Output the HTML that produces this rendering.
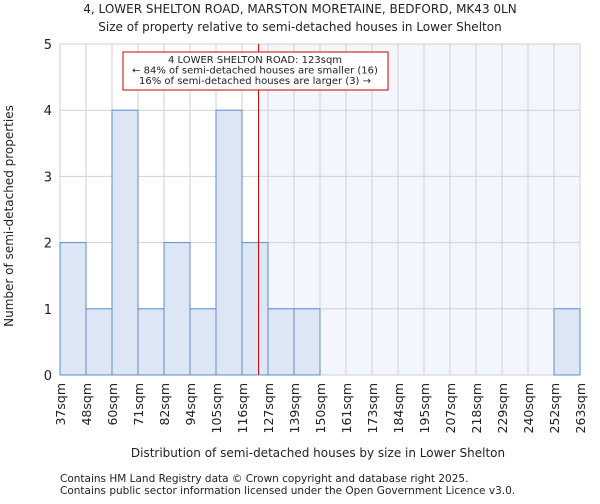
<!DOCTYPE html>
<html><head><meta charset="utf-8"><style>
body{margin:0;background:#fff;font-family:"DejaVu Sans","Liberation Sans",sans-serif;}
svg text{font-family:"DejaVu Sans","Liberation Sans",sans-serif;fill:#222;}
</style></head><body>
<svg id="chart" width="600" height="500">
<text x="300" y="13" font-size="12" text-anchor="middle">4, LOWER SHELTON ROAD, MARSTON MORETAINE, BEDFORD, MK43 0LN</text>
<text x="300" y="31" font-size="12" text-anchor="middle">Size of property relative to semi-detached houses in Lower Shelton</text>
<g id="plot"></g>
<text x="318" y="457" font-size="12" text-anchor="middle">Distribution of semi-detached houses by size in Lower Shelton</text>
<text transform="translate(13,216) rotate(-90)" font-size="12" text-anchor="middle">Number of semi-detached properties</text>
<text x="60" y="482" font-size="10.5">Contains HM Land Registry data © Crown copyright and database right 2025.</text>
<text x="60" y="494" font-size="10.5">Contains public sector information licensed under the Open Government Licence v3.0.</text>
</svg>
<script>
const binLabels=["37sqm","48sqm","60sqm","71sqm","82sqm","94sqm","105sqm","116sqm","127sqm","139sqm","150sqm","161sqm","173sqm","184sqm","195sqm","207sqm","218sqm","229sqm","240sqm","252sqm","263sqm"];
const binEdges=[37,48,60,71,82,94,105,116,127,139,150,161,173,184,195,207,218,229,240,252,263];
const counts=[2,1,4,1,2,1,4,2,1,1,0,0,0,0,0,0,0,0,0,1];
const yTicks=[0,1,2,3,4,5];
const subjectSize=123;
const annotationLines=["4 LOWER SHELTON ROAD: 123sqm","← 84% of semi-detached houses are smaller (16)","16% of semi-detached houses are larger (3) →"];
const NS="http://www.w3.org/2000/svg";
const g=document.getElementById('plot');
const X0=60,X1=580,Y0=375,Y1=44,n=counts.length,bw=(X1-X0)/n;
function xi(i){return X0+i*bw;}
function xv(v){let i=0;while(i<binEdges.length-2&&v>binEdges[i+1])i++;return xi(i)+bw*(v-binEdges[i])/(binEdges[i+1]-binEdges[i]);}
function y(v){return Y0-(Y0-Y1)*v/5;}
function mk(t,a){const e=document.createElementNS(NS,t);for(const k in a)e.setAttribute(k,a[k]);g.appendChild(e);return e;}
const sx=xv(subjectSize);
let e=mk('rect',{x:sx,y:Y1,width:X1-sx,height:Y0-Y1,fill:'#f3f6fc'});


for(let i=0;i<=n;i++){e=mk('line',{x1:xi(i),x2:xi(i),y1:Y1,y2:Y0,stroke:'#d0d0d0','stroke-width':1});

}
yTicks.forEach(t=>{e=mk('line',{x1:X0,x2:X1,y1:y(t),y2:y(t),stroke:'#d0d0d0','stroke-width':1});


e=mk('text',{x:X0-8,y:y(t)+5,'font-size':13,'text-anchor':'end'});e.textContent=t;

});
counts.forEach((c,i)=>{if(c<=0)return;e=mk('rect',{x:xi(i),y:y(c),width:bw,height:Y0-y(c),fill:'#dce6f4',stroke:'#5b8fd6','stroke-width':1});

});
binLabels.forEach((l,i)=>{e=mk('text',{transform:`translate(${xi(i)+5},${Y0+8}) rotate(-90)`,'font-size':12.5,'text-anchor':'end'});e.textContent=l;

});
e=mk('line',{x1:sx,x2:sx,y1:Y1,y2:Y0,stroke:'#cc0000','stroke-width':1});


e=mk('rect',{x:123,y:52,width:265,height:38,fill:'#fff',stroke:'#cc0000','stroke-width':1});


annotationLines.forEach((l,i)=>{e=mk('text',{x:255,y:63+i*10.5,'font-size':10,'text-anchor':'middle'});e.textContent=l;

});
</script>
</body></html>
